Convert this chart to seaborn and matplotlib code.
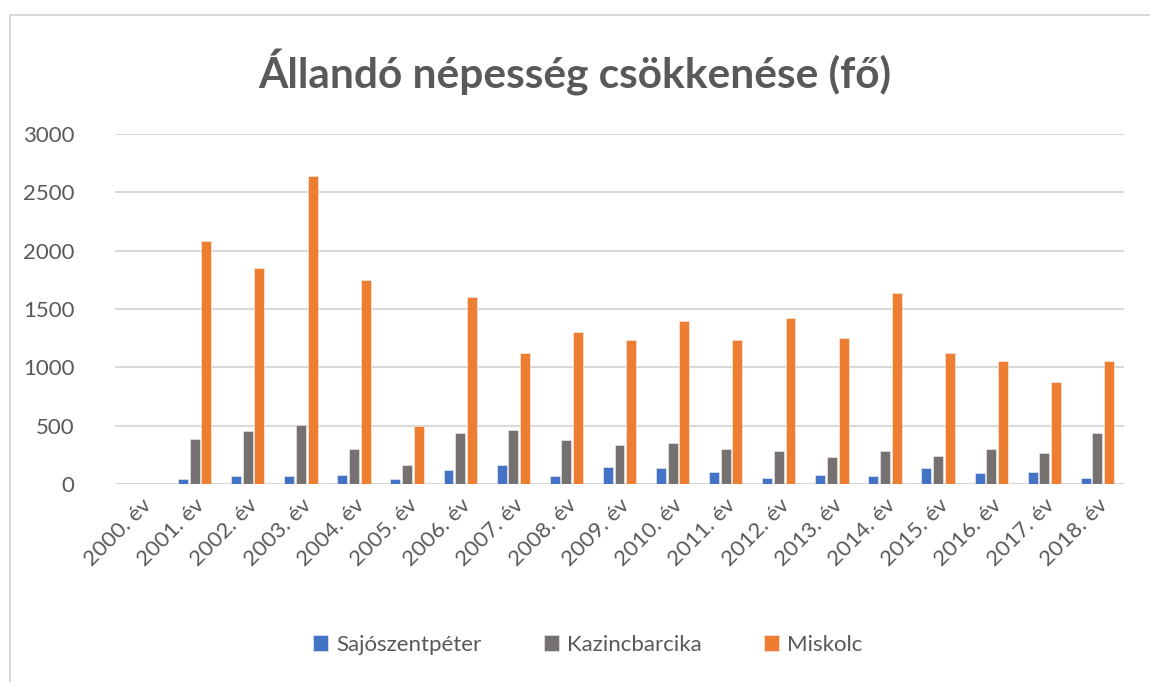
import matplotlib
matplotlib.use("Agg")
import matplotlib.pyplot as plt
import seaborn as sns
import pandas as pd
from matplotlib.patches import Rectangle

years = [f"{y}. év" for y in range(2000, 2019)]
sajoszentpeter = [0, 44, 70, 70, 81, 44, 122, 162, 70, 148, 133, 107, 55, 81, 70, 133, 96, 107, 55]
kazincbarcika = [0, 386, 452, 505, 296, 162, 441, 467, 374, 334, 348, 296, 281, 229, 281, 241, 296, 270, 441]
miskolc = [0, 2080, 1850, 2640, 1745, 495, 1600, 1120, 1300, 1235, 1395, 1235, 1420, 1250, 1640, 1120, 1055, 875, 1055]
series = ["Sajószentpéter", "Kazincbarcika", "Miskolc"]
colors = ["#4472C4", "#767171", "#ED7D31"]

df = pd.DataFrame({
    "év": years * 3,
    "érték": sajoszentpeter + kazincbarcika + miskolc,
    "település": [series[0]] * 19 + [series[1]] * 19 + [series[2]] * 19,
})

sns.set_theme(style="white")
plt.rcParams["font.family"] = ["Lato", "DejaVu Sans"]
txt = "#595959"

fig = plt.figure(figsize=(11.5, 6.82), dpi=100)
ax = fig.add_axes([0.1, 0.2903, 0.8774, 0.5132])

sns.barplot(data=df, x="év", y="érték", hue="település", palette=colors,
            width=0.66, gap=0.15, ax=ax, saturation=1, legend=True,
            edgecolor="#F2F2F2", linewidth=0.4)

ax.set_ylim(0, 3000)
ax.set_xlim(-0.5, 18.5)
ax.set_yticks(range(0, 3001, 500))
ax.yaxis.grid(True, color="#D9D9D9", linewidth=1.5)
ax.set_axisbelow(True)
for s in ax.spines.values():
    s.set_visible(False)
ax.set_xlabel("")
ax.set_ylabel("")
ax.tick_params(axis="y", labelsize=16, labelcolor=txt, length=0, pad=29)
ax.tick_params(axis="x", labelsize=16, labelcolor=txt, length=0, pad=8)
plt.setp(ax.get_xticklabels(), rotation=45, ha="right", rotation_mode="anchor")

ax.legend(loc="center", frameon=False, ncol=3, fontsize=16, labelcolor=txt,
          handlelength=0.7, handleheight=0.7, columnspacing=2.8, handletextpad=0.35)
leg = ax.get_legend()
leg.set_bbox_to_anchor((0.511, 1 - 645 / 682), transform=fig.transFigure)

fig.text(0.5, 1 - 73 / 682, "Állandó népesség csökkenése (fő)", ha="center", va="center",
         fontsize=30.5, fontweight="bold", color=txt)

fig.patches.append(Rectangle((10 / 1150, -0.1), 1.2, 1.1 - 15 / 682, transform=fig.transFigure,
                             fill=False, edgecolor="#D9D9D9", linewidth=1.5))

fig.savefig("out.png", dpi=100, facecolor="white")
